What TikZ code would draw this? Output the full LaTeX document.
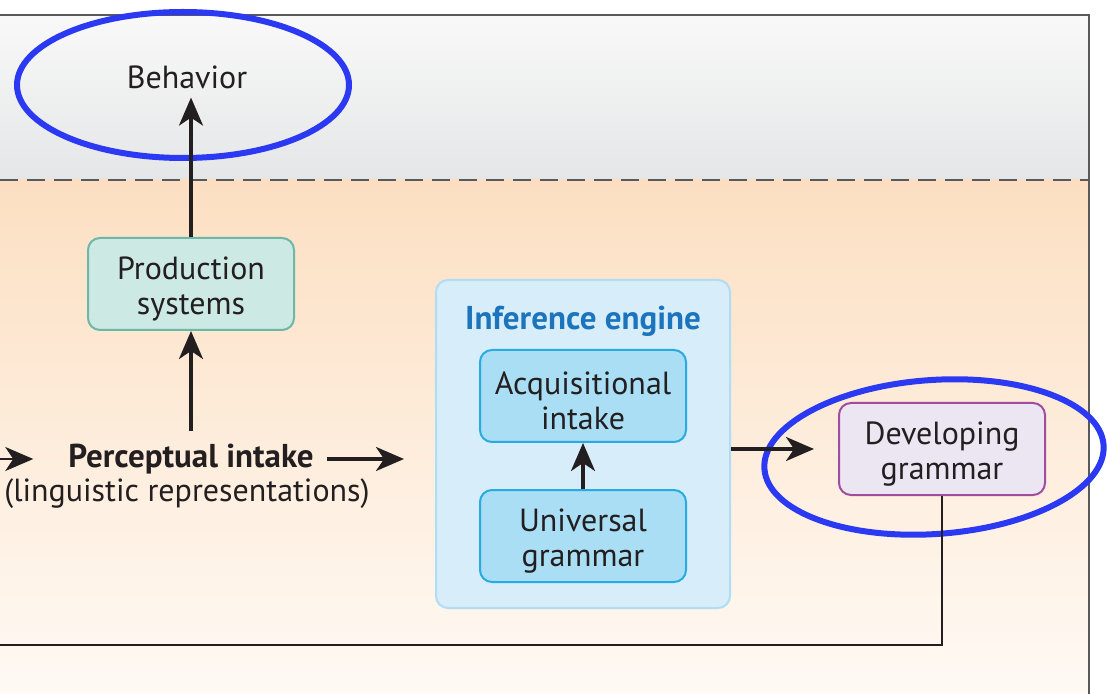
\documentclass[tikz,border=0pt]{standalone}
\usepackage{fontspec}
\setmainfont{PT Sans}
\usetikzlibrary{arrows.meta,positioning}
\definecolor{ink}{HTML}{231F20}
\definecolor{framegray}{HTML}{58595B}
\definecolor{prodfill}{HTML}{CDE9E3}
\definecolor{proddraw}{HTML}{6DB7A9}
\definecolor{inferfill}{HTML}{D7EEFA}
\definecolor{inferdraw}{HTML}{B0DDF4}
\definecolor{acqfill}{HTML}{A9DEF5}
\definecolor{acqdraw}{HTML}{29ABE2}
\definecolor{devfill}{HTML}{ECE6F2}
\definecolor{devdraw}{HTML}{A14D9F}
\definecolor{titleblue}{HTML}{1C75BC}
\definecolor{ringblue}{HTML}{2B3AF2}
\newcommand{\topstrut}{\rule{0pt}{16.5pt}}
\begin{document}
\begin{tikzpicture}[x=0.5pt,y=-0.5pt,>={Stealth[length=14pt,width=12pt,inset=4pt]},every node/.style={font=\fontsize{16}{17.5}\selectfont,text=ink},box/.style={draw,rounded corners=6pt,align=center,line width=1pt,minimum width=103pt,minimum height=46pt,inner sep=2pt},boldtext/.style={font=\fontsize{16.5}{18}\selectfont\bfseries},flow/.style={->,line width=1.6pt,draw=ink},ringmark/.style={draw=ringblue,line width=3pt}]
\useasboundingbox (0,0) rectangle (1107,694);
\clip (0,0) rectangle (1107,694);
% backgrounds and frame
\shade[top color=gray!5,bottom color={rgb,255:red,229;green,230;blue,231}] (-10,15) rectangle (1089,180);
\shade[top color={rgb,255:red,252;green,223;blue,194},bottom color={rgb,255:red,255;green,251;blue,247}] (-10,180) rectangle (1089,720);
\draw[framegray,line width=1pt] (-10,15) rectangle (1089,720);
\draw[framegray,line width=1pt,dash pattern=on 9pt off 4.5pt] (0,180) -- (1089,180);
% hand drawn rings
\draw[ringmark] (183,85) ellipse [x radius=83pt,y radius=36.5pt];
\draw[ringmark,rotate around={4:(934,457)}] (934,457) ellipse [x radius=85pt,y radius=38.5pt];
% nodes
\node (behav) at (187,77) {Behavior};
\node[box,fill=prodfill,draw=proddraw] (prod) at (191,284) {\topstrut Production\\systems};
\node[boldtext] (percept) at (191,459) {Perceptual intake};
\node (perceptsub) at (187,494) {(linguistic representations)};
\node[draw=inferdraw,fill=inferfill,line width=1pt,rounded corners=6pt,minimum width=147pt,minimum height=164pt] (infer) at (583,444) {};
\node[boldtext,text=titleblue] (infertitle) at (583,321) {Inference engine};
\node[box,fill=acqfill,draw=acqdraw] (acq) at (583,396) {\topstrut Acquisitional\\intake};
\node[box,fill=acqfill,draw=acqdraw] (ug) at (583,536) {\topstrut Universal\\grammar};
\node[box,fill=devfill,draw=devdraw] (devgram) at (942,449) {\topstrut Developing\\grammar};
\coordinate (loopleft) at (-10,645);
% connectors
\draw[flow,shorten <=3pt] (percept) -- (prod);
\draw[flow,shorten >=1pt] (prod.north) -- (prod.north |- behav.south);
\draw[flow,shorten <=3pt,shorten >=15.5pt] (percept.east) -- (percept.east -| infer.west);
\draw[flow] (ug) -- (acq);
\draw[flow,shorten >=12pt] (infer.east |- devgram) -- (devgram.west);
\draw[flow,line width=1.3pt,shorten >=14pt] (devgram.south) |- (loopleft) |- (percept.west);
\end{tikzpicture}
\end{document}
